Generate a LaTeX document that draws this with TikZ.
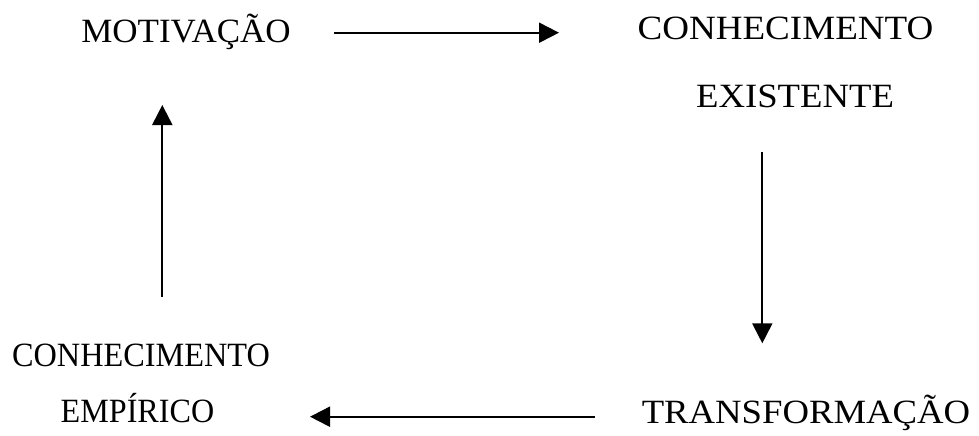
\documentclass[tikz,border=0pt]{standalone}
\usepackage{fontspec}
\setmainfont{Liberation Serif}
\usetikzlibrary{arrows.meta}
% horizontal stretch of a label, height unchanged
\newcommand{\hstretch}[2]{\scalebox{#1}[1]{#2}}
\begin{document}
\begin{tikzpicture}[x=1pt,y=-1pt,
  label/.style={inner sep=0pt,anchor=base,font=\fontsize{34}{40}\selectfont},
  arr/.style={line width=2pt,-{Triangle[width=20pt,length=20pt]}}]
\useasboundingbox (0,0) rectangle (979,436);
% the four stages of the cycle
\node[label] (mot)  at (186,42.5) {\hstretch{1.03}{MOTIVAÇÃO}};
\node[label] (cexa) at (785.5,39.5) {\hstretch{1.09}{CONHECIMENTO}};
\node[label] (cexb) at (795,107.5) {\hstretch{1.08}{EXISTENTE}};
\node[label] (tra)  at (806,423) {\hstretch{1.08}{TRANSFORMAÇÃO}};
\node[label] (cema) at (141,366) {\hstretch{0.95}{CONHECIMENTO}};
\node[label] (cemb) at (137.5,422) {\hstretch{0.945}{EMPÍRICO}};
% arrow end points
\coordinate (t1) at (334,32.7);
\coordinate (t2) at (559,32.7);
\coordinate (r1) at (762.3,151.7);
\coordinate (r2) at (762.3,343.3);
\coordinate (b1) at (595,416.7);
\coordinate (b2) at (310,416.7);
\coordinate (l1) at (162.3,296.7);
\coordinate (l2) at (162.3,105);
\draw[arr] (t1) -- (t2);
\draw[arr] (r1) -- (r2);
\draw[arr] (b1) -- (b2);
\draw[arr] (l1) -- (l2);
\end{tikzpicture}
\end{document}
